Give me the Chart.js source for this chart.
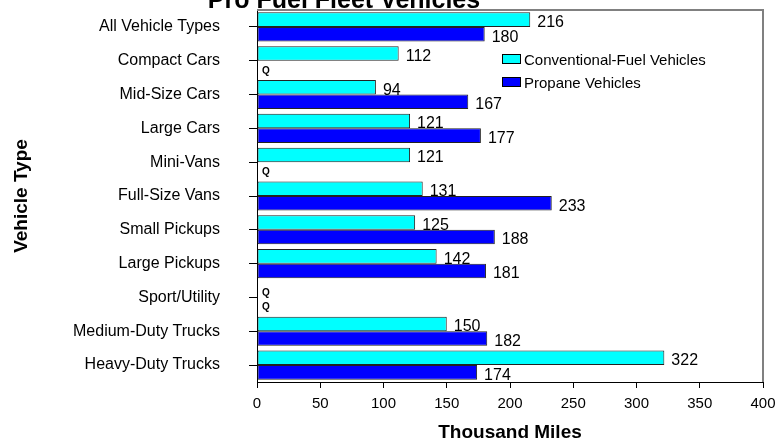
<!DOCTYPE html>
<html>
<head>
<meta charset="utf-8">
<script src="https://cdn.jsdelivr.net/npm/chart.js@4/dist/chart.umd.min.js"></script>
<style>
  html, body { margin: 0; padding: 0; background: #fff; }
  #wrap { width: 775px; height: 442px; }
</style>
</head>
<body>
<div id="wrap"><canvas id="chart"></canvas></div>
<script>
const categories = ["All Vehicle Types", "Compact Cars", "Mid-Size Cars", "Large Cars", "Mini-Vans",
  "Full-Size Vans", "Small Pickups", "Large Pickups", "Sport/Utility", "Medium-Duty Trucks", "Heavy-Duty Trucks"];
const conventional = [216, 112, 94, 121, 121, 131, 125, 142, null, 150, 322];
const propane = [180, null, 167, 177, null, 233, 188, 181, null, 182, 174];
const seriesNames = ["Conventional-Fuel Vehicles", "Propane Vehicles"];
const seriesColors = ["#00FFFF", "#0000FF"];

const FONT = "'Liberation Sans', Arial, sans-serif";

// value labels, Q markers, frame, legend, clipped title
const extras = {
  id: "extras",
  afterDatasetsDraw(chart) {
    const ctx = chart.ctx;
    const area = chart.chartArea;
    const yScale = chart.scales.y;
    ctx.save();

    // gray frame on top and right
    ctx.strokeStyle = "#808080";
    ctx.lineWidth = 2;
    ctx.beginPath();
    ctx.moveTo(area.left, area.top);
    ctx.lineTo(area.right, area.top);
    ctx.lineTo(area.right, area.bottom);
    ctx.stroke();

    chart.data.datasets.forEach((ds, di) => {
      const meta = chart.getDatasetMeta(di);
      meta.data.forEach((bar, i) => {
        const v = ds.data[i];
        let y = bar.y;
        if (!Number.isFinite(y)) {
          y = yScale.getPixelForValue(i) + (di === 0 ? -7 : 7);
        }
        ctx.fillStyle = "#000";
        ctx.textAlign = "left";
        ctx.textBaseline = "middle";
        if (v === null) {
          ctx.font = "bold 10px " + FONT;
          ctx.fillText("Q", area.left + 5, y + 3);
        } else {
          ctx.font = "16px " + FONT;
          ctx.fillText(String(v), bar.x + 7, y + 3);
        }
      });
    });

    // legend inside plot
    ctx.font = "15px " + FONT;
    ctx.textAlign = "left";
    ctx.textBaseline = "middle";
    seriesNames.forEach((name, i) => {
      const ly = 59 + i * 23;
      ctx.fillStyle = seriesColors[i];
      ctx.fillRect(502, ly - 5, 19, 10);
      ctx.strokeStyle = "#000";
      ctx.lineWidth = 1;
      ctx.strokeRect(502.5, ly - 4.5, 18, 9);
      ctx.fillStyle = "#000";
      ctx.fillText(name, 524, ly + 2);
    });

    // title, cut off at the top edge
    ctx.font = "bold 25px " + FONT;
    ctx.textAlign = "center";
    ctx.textBaseline = "alphabetic";
    ctx.fillText("Pro Fuel Fleet Vehicles", 344, 8);
    ctx.restore();
  }
};

new Chart(document.getElementById("chart"), {
  type: "bar",
  data: {
    labels: categories,
    datasets: seriesNames.map((name, i) => ({
      label: name,
      data: i === 0 ? conventional : propane,
      backgroundColor: seriesColors[i],
      borderColor: "#222",
      borderWidth: 1,
      borderSkipped: false,
      categoryPercentage: 0.86,
      barPercentage: 1
    }))
  },
  options: {
    indexAxis: "y",
    responsive: true,
    maintainAspectRatio: false,
    animation: false,
    layout: { padding: { left: 0, right: 12, top: 10, bottom: 0 } },
    plugins: {
      legend: { display: false },
      tooltip: { enabled: false }
    },
    scales: {
      x: {
        min: 0,
        max: 400,
        ticks: { stepSize: 50, color: "#000", padding: 7, font: { family: FONT, size: 15 } },
        grid: { drawOnChartArea: false, tickLength: 6, color: "#000" },
        border: { color: "#000", width: 1 },
        title: {
          display: true,
          text: "Thousand Miles",
          color: "#000",
          font: { family: FONT, size: 19, weight: "bold", lineHeight: 1 },
          padding: { top: -2, bottom: 0 }
        },
        afterFit(scale) {
          scale.height = 60;
          scale.paddingLeft = 0;
          scale.paddingRight = 0;
        }
      },
      y: {
        ticks: { color: "#000", padding: 29, font: { family: FONT, size: 16 } },
        grid: { offset: false, drawOnChartArea: false, tickLength: 8, color: "#000" },
        border: { color: "#000", width: 1 },
        title: {
          display: true,
          text: "Vehicle Type",
          color: "#000",
          font: { family: FONT, size: 19, weight: "bold", lineHeight: 1 },
          padding: { top: 12, bottom: 0 }
        },
        afterFit(scale) {
          scale.width = 257;
          scale.paddingTop = 0;
          scale.paddingBottom = 0;
        }
      }
    }
  },
  plugins: [extras]
});
</script>
</body>
</html>
